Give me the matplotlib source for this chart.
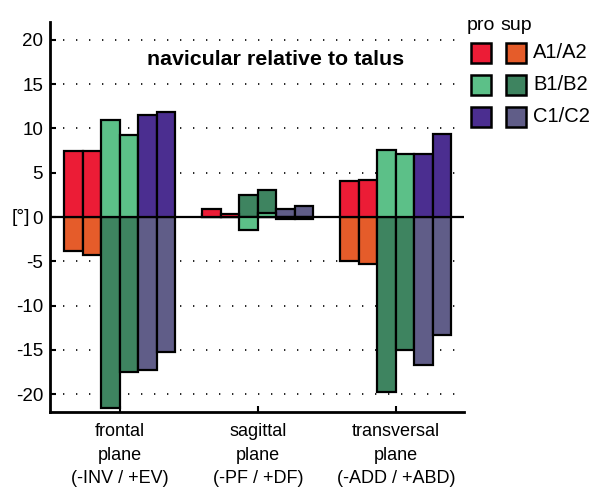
import numpy as np
import matplotlib
matplotlib.use("Agg")
import matplotlib.pyplot as plt
from matplotlib.patches import Rectangle

plt.rcParams["font.family"] = ["Liberation Sans Narrow", "Liberation Sans", "DejaVu Sans"]
plt.rcParams["axes.unicode_minus"] = False

planes = ["frontal\nplane\n(-INV / +EV)", "sagittal\nplane\n(-PF / +DF)", "transversal\nplane\n(-ADD / +ABD)"]
bar_names = ["A1", "A2", "B1", "B2", "C1", "C2"]

# pronation values per plane (A1, A2, B1, B2, C1, C2)
pro_frontal = [7.5, 7.5, 11.0, 9.2, 11.5, 11.9]
pro_sagittal = [0.9, 0.35, -1.5, 0.5, -0.2, -0.2]
pro_transversal = [4.1, 4.2, 7.6, 7.1, 7.1, 9.4]

# supination values per plane
sup_frontal = [-3.85, -4.3, -21.6, -17.5, -17.3, -15.2]
sup_sagittal = [0.3, 0.2, 2.5, 3.0, 0.9, 1.2]
sup_transversal = [-5.0, -5.3, -19.7, -15.0, -16.7, -13.3]

legend_rows = ["A1/A2", "B1/B2", "C1/C2"]
pro_colors = ["#ec1c36", "#5cc088", "#4b2e90"]
sup_colors = ["#e55c2a", "#3e8460", "#605d88"]

pro = np.array([pro_frontal, pro_sagittal, pro_transversal])
sup = np.array([sup_frontal, sup_sagittal, sup_transversal])

fig = plt.figure(figsize=(5.94, 4.95), dpi=100)
ax = fig.add_axes([50 / 594, 1 - 412 / 495, 414 / 594, 390 / 495])

w = 0.134
groups = np.arange(1, len(planes) + 1)
offsets = (np.arange(len(bar_names)) - 2.5) * w

for i in range(len(bar_names)):
    c = i // 2
    ax.bar(groups + offsets[i], sup[:, i], width=w, color=sup_colors[c],
           edgecolor="black", linewidth=1.6, zorder=2)
for i in range(len(bar_names)):
    c = i // 2
    ax.bar(groups + offsets[i], pro[:, i], width=w, color=pro_colors[c],
           edgecolor="black", linewidth=1.6, zorder=3)

ax.axhline(0, color="black", lw=1.6, zorder=1.5)

ax.set_xlim(0.493, 3.493)
ax.set_ylim(-22, 22)
ax.set_yticks([-20, -15, -10, -5, 0, 5, 10, 15, 20])
ax.set_xticks(groups)
ax.set_xticklabels(planes, linespacing=1.5, fontsize=13)
ax.tick_params(axis="both", direction="in", length=4, width=1.5)
ax.tick_params(axis="y", pad=5, labelsize=13.5)
ax.tick_params(axis="x", pad=8)

for v in [-20, -15, -10, -5, 5, 10, 15, 20]:
    ax.axhline(v, color="black", lw=1.2, linestyle=(0, (0.8, 7)), zorder=1)

for s in ["top", "right"]:
    ax.spines[s].set_visible(False)
for s in ["left", "bottom"]:
    ax.spines[s].set_linewidth(2)

ax.text(-20 / 414, 0.5, "[°]", transform=ax.transAxes, ha="right", va="center", fontsize=14)

ax.text(0.546, (412 - 65) / 390, "navicular relative to talus", transform=ax.transAxes,
        ha="center", va="baseline", fontsize=15.4, fontweight="bold")

# legend drawn by hand: pro / sup columns
W, H = 594, 495
fig.text(481 / W, 1 - 25 / H, "pro", ha="center", va="center", fontsize=14)
fig.text(516 / W, 1 - 25 / H, "sup", ha="center", va="center", fontsize=14)
row_y = [53, 85, 117]
for r, label in enumerate(legend_rows):
    y = row_y[r]
    for x0, col in [(471, pro_colors[r]), (506, sup_colors[r])]:
        fig.add_artist(Rectangle((x0 / W, 1 - (y + 10) / H), 20 / W, 20 / H,
                                 transform=fig.transFigure, facecolor=col,
                                 edgecolor="black", linewidth=1.8))
    fig.text(533 / W, 1 - y / H, label, ha="left", va="center", fontsize=14.5)

fig.savefig("out.png", dpi=100)
